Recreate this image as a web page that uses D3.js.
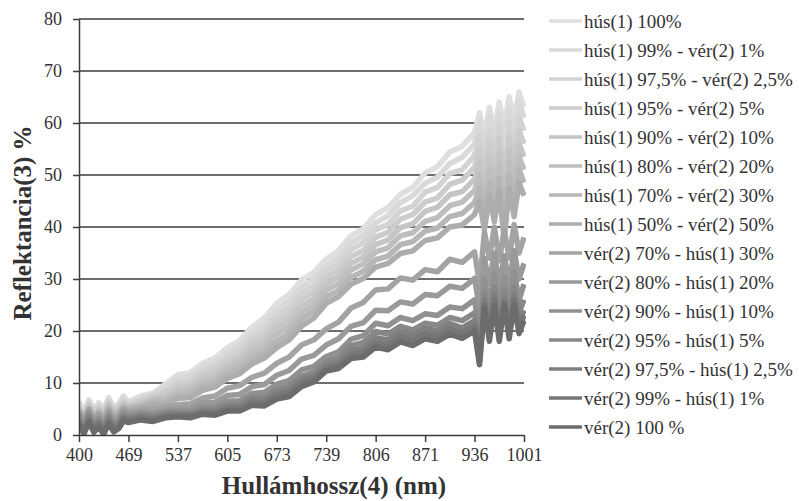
<!DOCTYPE html>
<html>
<head>
<meta charset="utf-8">
<script src="https://cdn.jsdelivr.net/npm/d3@7"></script>
<style>
  body { margin: 0; background: #fff; }
  text { font-family: "Liberation Serif", "Times New Roman", serif; fill: #333; }
</style>
</head>
<body>
<div id="chart"></div>
<script>
// x axis is a category axis: one tick per label, read positions are in tick units
const tickLabels = ['400', '469', '537', '605', '673', '739', '806', '871', '936', '1001'];
const positions = [0, 0.1, 0.2, 0.3, 0.4, 0.5, 0.6, 0.7, 0.8, 0.9, 1,
  1.25, 1.5, 1.75, 2, 2.25, 2.5, 2.75, 3, 3.25, 3.5, 3.75, 4, 4.25, 4.5, 4.75, 5,
  5.25, 5.5, 5.75, 6, 6.25, 6.5, 6.75, 7, 7.25, 7.5, 7.75, 8,
  8.1, 8.2, 8.3, 8.4, 8.5, 8.6, 8.7, 8.8, 8.9, 9];

const seriesNames = [
  'hús(1) 100%',
  'hús(1) 99% - vér(2) 1%',
  'hús(1) 97,5% - vér(2) 2,5%',
  'hús(1) 95% - vér(2) 5%',
  'hús(1) 90% - vér(2) 10%',
  'hús(1) 80% - vér(2) 20%',
  'hús(1) 70% - vér(2) 30%',
  'hús(1) 50% - vér(2) 50%',
  'vér(2) 70% - hús(1) 30%',
  'vér(2) 80% - hús(1) 20%',
  'vér(2) 90% - hús(1) 10%',
  'vér(2) 95% - hús(1) 5%',
  'vér(2) 97,5% - hús(1) 2,5%',
  'vér(2) 99% - hús(1) 1%',
  'vér(2) 100 %'
];

const hus100 = [6.5,4.5,6.8,4.8,6.2,5.0,7.2,5.3,6.0,7.5,6.4,
  7.5,8.1,9.8,11.6,12.0,13.8,14.8,16.8,18.2,20.8,22.5,25.3,27.0,29.8,31.3,33.8,35.5,38.3,39.7,42.4,43.7,46.3,47.6,50.4,51.6,54.4,55.5,58.2,
  62,57.5,63,58.5,64,59.5,65,60.5,66,63];
const hus99 = [6.0,4.2,6.5,4.9,5.8,4.6,6.9,5.0,5.7,7.1,6.2,
  7.1,7.8,9.3,10.9,11.3,13.0,14.0,15.9,17.3,19.7,21.4,24.0,25.8,28.4,30.1,32.5,34.2,36.9,38.4,40.8,42.2,44.7,46.0,48.4,49.6,52.2,53.4,56.0,
  60.5,55.5,61.5,56,62,57,63,55.5,64,61];
const hus975 = [5.6,4.0,6.1,4.4,5.5,4.3,6.5,4.7,5.4,6.7,5.9,
  6.6,7.8,8.4,10.2,10.6,12.2,13.2,15.0,16.4,18.7,20.3,22.9,24.5,27.3,28.7,31.4,32.8,35.6,37.0,39.5,40.5,43.1,44.0,46.7,47.6,50.3,51.0,53.8,
  57.5,52,58.5,53.5,59.5,50,60,54,61,58.5];
const hus95 = [5.3,3.7,5.8,4.1,5.2,4.0,6.1,4.5,5.1,6.3,5.7,
  6.5,7.0,8.3,9.4,9.9,11.5,12.4,14.3,15.5,17.8,19.1,21.7,23.2,26.0,27.5,30.2,31.6,34.3,35.5,38.0,39.0,41.5,42.4,44.8,45.6,48.2,49.0,51.5,
  55,49.5,56,51,57,47.5,57.5,52,58.5,56];
const hus90 = [5.0,3.5,5.5,3.8,4.9,3.7,5.8,4.2,4.8,6.0,5.4,
  6.0,7.0,7.4,8.9,9.2,10.8,11.5,13.4,14.6,16.8,18.0,20.5,22.0,24.7,26.2,29.0,30.4,33.0,34.2,36.6,37.5,39.9,40.6,43.0,43.8,46.2,46.8,49.2,
  52.5,47,53.5,48.5,54.5,45,55,49.5,56,53.5];
const hus80 = [4.8,3.3,5.2,3.6,4.6,3.4,5.5,4.0,4.5,5.7,5.2,
  5.8,6.7,6.9,8.3,8.6,10.1,10.8,12.6,13.7,15.8,17.0,19.3,20.8,23.4,25.0,27.8,29.1,31.7,32.9,35.2,36.0,38.3,38.9,41.1,41.8,44.1,44.8,47.0,
  50,44.5,51,46,52,42.5,52.5,47,53.5,51];
const hus70 = [4.6,3.1,5.0,3.4,4.4,3.2,5.2,3.8,4.3,5.4,5.0,
  5.5,6.3,6.4,7.6,7.9,9.4,10.0,11.8,12.8,14.7,15.9,18.0,19.5,22.2,23.8,26.5,27.8,30.3,31.5,33.7,34.4,36.6,37.2,39.2,39.8,42.0,42.6,44.7,
  47.5,42,48.5,43.5,49.5,40,50,44.5,51,48.5];
const hus50 = [4.4,2.9,4.8,3.2,4.2,3.0,5.0,3.6,4.1,5.2,4.8,
  5.2,5.9,5.9,7.0,7.2,8.6,9.2,10.9,11.8,13.7,14.8,16.8,18.3,20.9,22.5,25.3,26.6,29.0,30.1,32.3,33.0,34.9,35.4,37.4,37.9,40.0,40.4,42.4,
  45,39.5,46,41,47,37.5,47.5,42,48.5,46];
const ver70 = [4.5,2.6,4.9,3.0,4.0,2.4,4.6,3.1,3.6,5.0,4.4,
  4.8,4.9,5.4,5.8,6.0,7.1,7.5,9.0,9.5,11.1,11.9,13.8,15.0,17.3,18.3,20.4,21.7,24.4,25.5,27.9,28.1,30.2,29.8,31.8,31.4,33.8,33.2,35.2,
  29,39,34,40,33.5,39.5,34,40.5,35,38];
const ver80 = [4.0,2.2,4.5,2.6,3.6,2.0,4.2,2.7,3.2,4.6,4.1,
  4.5,4.3,4.8,5.1,5.1,6.2,6.3,7.6,7.8,9.3,9.7,11.5,12.4,14.6,15.3,17.3,18.5,20.9,21.6,24.0,23.9,25.6,25.2,27.0,26.8,28.6,28.2,30.1,
  24.5,34,29,35,28.5,34.5,29,35.5,30,33];
const ver90 = [3.6,1.8,4.1,2.2,3.2,1.6,3.8,2.3,2.8,4.2,3.8,
  4.2,3.9,4.5,4.6,4.6,5.5,5.5,6.5,6.6,8.0,8.2,9.8,10.5,12.5,13.2,15.1,16.0,18.4,19.1,21.5,21.0,22.6,22.0,23.3,23.0,24.6,24.3,26.0,
  20,30,25,31,24.5,30.5,25,31.5,26,29];
const ver95 = [3.2,1.4,3.7,1.8,2.8,1.2,3.4,1.9,2.4,3.8,3.5,
  3.9,3.6,4.2,4.3,4.2,5.0,4.9,5.9,6.0,7.3,7.3,8.8,9.4,11.3,12.1,14.1,14.9,17.2,17.8,19.9,19.4,20.9,20.2,21.5,21.1,22.6,22.0,23.5,
  17.5,27.5,22.5,28.5,22,28,22.5,28.5,23.5,26];
const ver975 = [2.8,1.0,3.3,1.4,2.4,0.8,3.0,1.5,2.0,3.5,3.1,
  3.6,3.3,3.9,4.0,3.9,4.6,4.5,5.4,5.5,6.7,6.7,8.1,8.7,10.6,11.3,13.3,14.0,16.2,16.7,18.7,18.3,19.8,19.2,20.5,20.0,21.4,20.6,22.0,
  15.5,26,20.5,27,20,26.5,20.5,27,21.5,24];
const ver99 = [2.4,0.6,2.9,1.0,2.0,0.4,2.6,1.1,1.6,3.1,2.8,
  3.3,3.0,3.6,3.7,3.6,4.3,4.1,5.0,5.0,6.2,6.2,7.5,8.1,10.0,10.8,12.8,13.3,15.4,15.8,17.7,17.3,18.9,18.2,19.5,19.0,20.4,19.6,21.0,
  14,25,19,26,19,25.5,19.5,26,20.5,23];
const ver100 = [2.0,0.2,2.5,0.5,1.5,0.1,2.2,0.6,1.2,2.7,2.4,
  2.9,2.6,3.3,3.5,3.3,4.0,3.8,4.6,4.6,5.7,5.6,6.9,7.4,9.3,10.2,12.3,12.8,14.7,15.0,16.9,16.4,17.9,17.2,18.5,18.0,19.4,18.6,20.0,
  13.5,24.5,18,25,18,25,18.5,25,19.5,22];

const seriesValues = [hus100, hus99, hus975, hus95, hus90, hus80, hus70, hus50,
  ver70, ver80, ver90, ver95, ver975, ver99, ver100];
const seriesColors = ['#dfdfdf', '#d9d9d9', '#d3d3d3', '#cccccc', '#c5c5c5', '#bebebe', '#b6b6b6', '#adadad',
  '#a3a3a3', '#9a9a9a', '#919191', '#888888', '#7f7f7f', '#767676', '#6c6c6c'];
const yTicks = [0, 10, 20, 30, 40, 50, 60, 70, 80];

const W = 799, H = 501;
const plot = {left: 79, right: 524, top: 19, bottom: 435};

const svg = d3.select('#chart').append('svg')
  .attr('width', W)
  .attr('height', H);

const xScale = d3.scaleLinear().domain([0, tickLabels.length - 1]).range([plot.left, plot.right]);
const yScale = d3.scaleLinear().domain([0, 80]).range([plot.bottom, plot.top]);

// gridlines
svg.append('g')
  .selectAll('line')
  .data(yTicks.slice(1))
  .join('line')
  .attr('x1', plot.left)
  .attr('x2', plot.right)
  .attr('y1', d => yScale(d))
  .attr('y2', d => yScale(d))
  .attr('stroke', '#3c3c3c')
  .attr('stroke-width', 1.5);

svg.append('clipPath')
  .attr('id', 'plotClip')
  .append('rect')
  .attr('x', plot.left)
  .attr('y', plot.top)
  .attr('width', plot.right - plot.left + 2)
  .attr('height', plot.bottom - plot.top);

const line = d3.line()
  .x((d, i) => xScale(positions[i]))
  .y(d => yScale(d));

svg.append('g')
  .attr('clip-path', 'url(#plotClip)')
  .selectAll('path')
  .data(seriesValues)
  .join('path')
  .attr('d', d => line(d))
  .attr('fill', 'none')
  .attr('stroke', (d, i) => seriesColors[i])
  .attr('stroke-width', 5.5)
  .attr('stroke-linejoin', 'round');

// axes
const yAxis = d3.axisLeft(yScale)
  .tickValues(yTicks)
  .tickSizeInner(6)
  .tickSizeOuter(0)
  .tickPadding(11);
const gy = svg.append('g')
  .attr('transform', 'translate(' + plot.left + ',0)')
  .call(yAxis);

const xAxis = d3.axisBottom(xScale)
  .tickValues(d3.range(tickLabels.length))
  .tickFormat(i => tickLabels[i])
  .tickSizeInner(7)
  .tickSizeOuter(0)
  .tickPadding(6);
const gx = svg.append('g')
  .attr('transform', 'translate(0,' + plot.bottom + ')')
  .call(xAxis);

[gx, gy].forEach(g => {
  g.select('.domain').attr('stroke', '#3c3c3c').attr('stroke-width', 1.5);
  g.selectAll('.tick line').attr('stroke', '#3c3c3c').attr('stroke-width', 1.5);
  g.selectAll('.tick text')
    .style('font-family', '"Liberation Serif", serif')
    .style('font-size', '18px')
    .attr('fill', '#333');
});

// axis titles
svg.append('text')
  .attr('x', 334)
  .attr('y', 494)
  .attr('text-anchor', 'middle')
  .style('font-size', '25px')
  .style('font-weight', 'bold')
  .attr('fill', '#262626')
  .text('Hullámhossz(4) (nm)');

svg.append('text')
  .attr('transform', 'translate(31,' + 223 + ') rotate(-90)')
  .attr('text-anchor', 'middle')
  .style('font-size', '25px')
  .style('font-weight', 'bold')
  .attr('fill', '#262626')
  .text('Reflektancia(3) %');

// legend
const legend = svg.append('g').attr('transform', 'translate(549,0)');
const rows = legend.selectAll('g')
  .data(seriesNames)
  .join('g')
  .attr('transform', (d, i) => 'translate(0,' + (21 + i * 29) + ')');
rows.append('line')
  .attr('x1', 0)
  .attr('x2', 33)
  .attr('stroke', (d, i) => seriesColors[i])
  .attr('stroke-width', 3.5);
rows.append('text')
  .attr('x', 35)
  .attr('dy', '0.35em')
  .style('font-size', '19px')
  .attr('fill', '#333')
  .text(d => d);
</script>
</body>
</html>
